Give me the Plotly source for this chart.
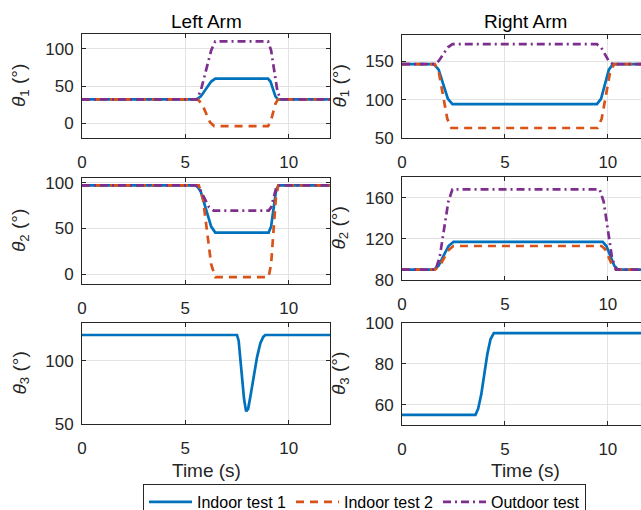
import plotly.graph_objects as go

# ---------------- data ----------------
# Left arm, theta1
l1_t1 = [0, 5.55, 5.75, 6.0, 6.25, 6.45, 9.0, 9.12, 9.24, 9.36, 9.48, 12]
l1_v1 = [32, 32, 36, 46, 56, 60, 60, 56, 46, 36, 32, 32]
l1_t2 = [0, 5.6, 5.8, 6.0, 6.2, 6.4, 9.0, 9.12, 9.24, 9.36, 9.48, 12]
l1_v2 = [32, 32, 26, 14, 1, -4, -4, 1, 14, 26, 32, 32]
l1_t3 = [0, 5.55, 5.75, 6.0, 6.25, 6.45, 9.0, 9.15, 9.3, 9.45, 9.6, 12]
l1_v3 = [32, 32, 44, 71, 98, 110, 110, 98, 71, 44, 32, 32]

# Left arm, theta2
l2_t1 = [0, 5.55, 5.75, 6.0, 6.25, 6.45, 9.03, 9.15, 9.27, 9.38, 9.5, 12]
l2_v1 = [97, 97, 90, 71, 52, 45.5, 45.5, 52, 71, 90, 97, 97]
l2_t2 = [0, 5.65, 5.85, 6.05, 6.25, 6.45, 9.03, 9.15, 9.27, 9.38, 9.5, 12]
l2_v2 = [97, 97, 83, 47, 11, -3, -3, 11, 47, 83, 97, 97]
l2_t3 = [0, 5.5, 5.7, 5.93, 6.15, 6.37, 9.03, 9.15, 9.27, 9.38, 9.5, 12]
l2_v3 = [97, 97, 93, 83, 73, 69.5, 69.5, 73, 83, 93, 97, 97]

# Left arm, theta3
l3_t1 = [0, 7.5, 7.58, 7.66, 7.74, 7.84, 7.94, 8.04, 8.15, 8.3, 8.47, 8.63, 8.77, 8.87, 12]
l3_v1 = [120.5, 120.5, 116, 103, 87, 70, 60, 62, 72, 87, 103, 114, 119, 120.5, 120.5]

# Right arm, theta1
r1_t1 = [0, 1.55, 1.78, 2.0, 2.23, 2.45, 9.47, 9.67, 9.86, 10.05, 10.25, 12]
r1_v1 = [146, 146, 139, 120, 101, 94, 94, 101, 120, 139, 146, 146]
r1_t2 = [0, 1.6, 1.8, 2.0, 2.2, 2.4, 9.5, 9.7, 9.9, 10.1, 10.3, 12]
r1_v2 = [146, 146, 134, 104, 75, 63, 63, 75, 104, 134, 146, 146]
r1_t3 = [0, 1.55, 1.78, 2.0, 2.23, 2.45, 9.47, 9.67, 9.86, 10.05, 10.25, 12]
r1_v3 = [146, 146, 150, 159, 168, 172, 172, 168, 159, 150, 146, 146]

# Right arm, theta2
r2_t1 = [0, 1.55, 1.78, 2.02, 2.26, 2.5, 9.75, 9.93, 10.12, 10.31, 10.5, 12]
r2_v1 = [90, 90, 94, 103.5, 113, 117, 117, 113, 103.5, 94, 90, 90]
r2_t2 = [0, 1.6, 1.82, 2.05, 2.28, 2.5, 9.7, 9.88, 10.05, 10.23, 10.4, 12]
r2_v2 = [90, 90, 93.5, 101.5, 109.5, 113, 113, 109.5, 101.5, 93.5, 90, 90]
r2_t3 = [0, 1.63, 1.83, 2.04, 2.25, 2.45, 9.6, 9.8, 10.0, 10.2, 10.4, 12]
r2_v3 = [90, 90, 102, 129, 156, 168, 168, 156, 129, 102, 90, 90]

# Right arm, theta3
r3_t1 = [0, 3.57, 3.7, 3.85, 4.0, 4.15, 4.3, 4.46, 12]
r3_v1 = [55, 55, 58, 65, 75, 85, 92, 95, 95]

series_names = ["Indoor test 1", "Indoor test 2", "Outdoor test"]
x_ticks = [0, 5, 10]
col_titles = ["Left Arm", "Right Arm"]

# ---------------- styling ----------------
BLUE, ORANGE, PURPLE = "#0072BD", "#D95319", "#7E2F8E"
TXT = "#262626"
GRID = "#e3e3e3"
FONT = "Liberation Sans, Arial, sans-serif"
LW = 2.7
styles = [dict(color=BLUE, width=LW, dash="solid"),
          dict(color=ORANGE, width=LW, dash="8px,6px"),
          dict(color=PURPLE, width=LW, dash="8px,4px,2px,4px")]

W, H = 641, 510
def px_x(p): return p / W
def px_y(p): return 1 - p / H

# panel pixel boxes: (left, right, top, bottom)
panels = [
    (82, 330, 34, 138), (402, 641, 35, 138),
    (82, 330, 178, 284), (402, 641, 177, 280),
    (82, 330, 323, 424), (402, 641, 323, 425),
]
yranges = [[-20, 120], [50, 184], [-10.5, 105], [80, 180], [50, 130], [50, 100]]
yticks = [[0, 50, 100], [50, 100, 150], [0, 50, 100], [80, 120, 160], [50, 100], [60, 80, 100]]
xrange_left = [0, 12]
xrange_right = [0, 12 * (641 - 402) / (649 - 402)]

data_panels = [
    [(l1_t1, l1_v1), (l1_t2, l1_v2), (l1_t3, l1_v3)],
    [(r1_t1, r1_v1), (r1_t2, r1_v2), (r1_t3, r1_v3)],
    [(l2_t1, l2_v1), (l2_t2, l2_v2), (l2_t3, l2_v3)],
    [(r2_t1, r2_v1), (r2_t2, r2_v2), (r2_t3, r2_v3)],
    [(l3_t1, l3_v1)],
    [(r3_t1, r3_v1)],
]

fig = go.Figure()
layout = dict(
    width=W, height=H,
    margin=dict(l=0, r=0, t=0, b=0, autoexpand=False),
    paper_bgcolor="white", plot_bgcolor="white",
    font=dict(family=FONT, color=TXT, size=17),
    showlegend=True,
)
annotations = []

for i, (box, series) in enumerate(zip(panels, data_panels)):
    k = i + 1
    xa = "xaxis" if k == 1 else f"xaxis{k}"
    ya = "yaxis" if k == 1 else f"yaxis{k}"
    xr = "x" if k == 1 else f"x{k}"
    yr = "y" if k == 1 else f"y{k}"
    left, right, top, bottom = box
    is_right = (i % 2 == 1)
    layout[xa] = dict(
        domain=[px_x(left), px_x(right)], anchor=yr,
        range=xrange_right if is_right else xrange_left,
        tickvals=x_ticks, ticks="inside", ticklen=4, tickcolor=TXT,
        showline=True, linecolor=TXT, linewidth=1, mirror="ticks",
        showgrid=True, gridcolor=GRID, gridwidth=1, zeroline=False,
        tickfont=dict(size=17, color=TXT), ticklabelstandoff=9,
    )
    layout[ya] = dict(
        domain=[px_y(bottom), px_y(top)], anchor=xr,
        range=yranges[i], tickvals=yticks[i],
        ticks="inside", ticklen=4, tickcolor=TXT,
        showline=True, linecolor=TXT, linewidth=1,
        mirror=False if is_right else "ticks",
        showgrid=True, gridcolor=GRID, gridwidth=1, zeroline=False,
        tickfont=dict(size=17, color=TXT), ticklabelstandoff=4,
    )
    for j, (t, v) in enumerate(series):
        fig.add_trace(go.Scatter(
            x=t, y=v, mode="lines", name=series_names[j],
            line=dict(shape="linear", **styles[j]),
            xaxis=xr, yaxis=yr,
            showlegend=(i == 0), legendrank=j + 1,
        ))
    # y-axis label
    row = i // 2 + 1
    annotations.append(dict(
        text=f"<i>θ</i><sub>{row}</sub> (°)", textangle=-90,
        x=px_x(340 if is_right else 20), y=px_y((top + bottom) / 2),
        xref="paper", yref="paper", xanchor="center", yanchor="middle",
        showarrow=False, font=dict(size=19, color=TXT, family=FONT),
    ))

# column titles and x labels
for c, title in enumerate(col_titles):
    cx = 206 if c == 0 else 525
    annotations.append(dict(text=title, x=px_x(cx), y=px_y(22), xref="paper", yref="paper",
                            xanchor="center", yanchor="middle", showarrow=False,
                            font=dict(size=19, color="black", family=FONT)))
    annotations.append(dict(text="Time (s)", x=px_x(cx), y=px_y(470), xref="paper", yref="paper",
                            xanchor="center", yanchor="middle", showarrow=False,
                            font=dict(size=19, color=TXT, family=FONT)))

layout["annotations"] = annotations
layout["legend"] = dict(
    orientation="h", x=px_x(143), xanchor="left", y=px_y(484), yanchor="top",
    bgcolor="white", bordercolor=TXT, borderwidth=1,
    font=dict(size=16, color="black", family=FONT),
    itemwidth=43, tracegroupgap=0, traceorder="normal",
    entrywidth=89, entrywidthmode="pixels",
)
fig.update_layout(**layout)
fig.write_html("out.html", config={"displayModeBar": False},
               post_script="document.body.style.margin='0';document.body.style.overflow='hidden';")
